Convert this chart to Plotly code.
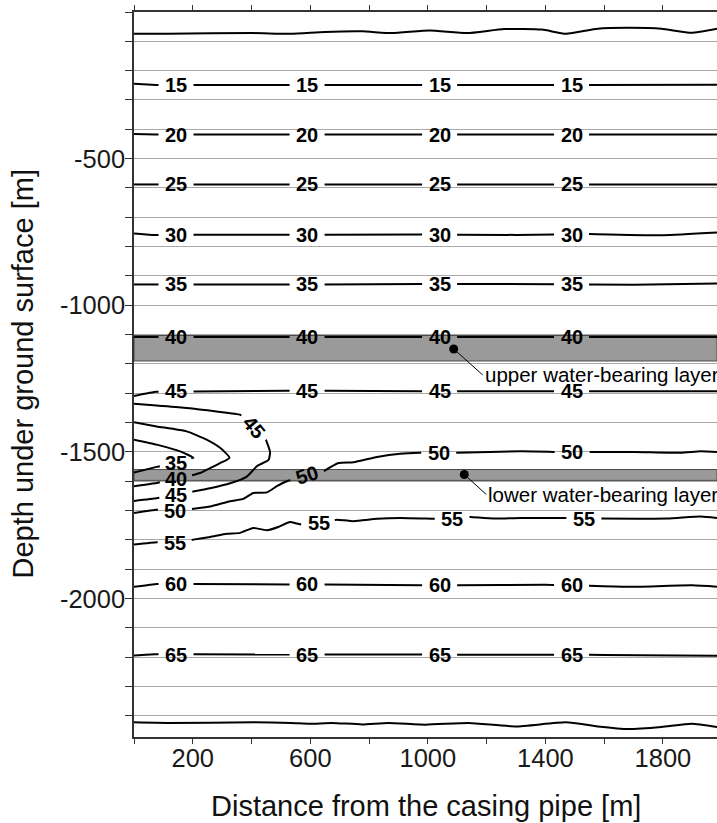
import math
import plotly.graph_objects as go

# ---------------- axes ----------------
X_RANGE = [0, 1984]
Y_RANGE = [-2472, 0]
X_TICKS = [200, 600, 1000, 1400, 1800]
X_TICKTEXT = ["200", "600", "1000", "1400", "1800"]
Y_TICKS = [-500, -1000, -1500, -2000]
Y_TICKTEXT = ["-500", "-1000", "-1500", "-2000"]
ML, MR, MT, MB = 134, 0, 12, 86
FIG_W, FIG_H = 717, 823

# ---------------- isotherms (distance [m], depth [m]) ----------------
T10_X = [0, 114, 407, 534, 649, 776, 878, 1006, 1133, 1260, 1388, 1470, 1578, 1681, 1795, 1897, 1984]
T10_D = [-74, -74, -72, -74, -68, -66, -72, -63, -72, -58, -60, -74, -57, -54, -57, -71, -57]

T15_X = [0, 75, 600, 1200, 1984]
T15_D = [-245, -249, -249, -249, -248]

T20_X = [0, 75, 1984]
T20_D = [-416, -418, -418]

T25_X = [0, 1984]
T25_D = [-588, -588]

T30_X = [0, 60, 1000, 1300, 1550, 1800, 1984]
T30_D = [-755, -760, -759, -760, -757, -761, -752]

T35_X = [0, 600, 1200, 1700, 1984]
T35_D = [-929, -929, -927, -930, -926]

T40_X = [0, 1984]
T40_D = [-1108, -1108]

T45_X = [0, 75, 520, 1000, 1984]
T45_D = [-1309, -1295, -1291, -1293, -1293]

# cold plume near the casing pipe (hairpin isotherms)
T35H_X = [0, 77, 157, 202, 143, 77, 0]
T35H_D = [-1458, -1475, -1498, -1520, -1537, -1551, -1570]

T40H_X = [0, 77, 179, 247, 293, 325, 293, 259, 225, 197, 143, 77, 0]
T40H_D = [-1399, -1413, -1430, -1458, -1486, -1520, -1538, -1555, -1572, -1580, -1592, -1606, -1617]

T45H_X = [0, 77, 179, 281, 361, 408, 449, 463, 458, 419, 384, 327, 259, 202, 143, 77, 0]
T45H_D = [-1336, -1342, -1350, -1362, -1373, -1415, -1459, -1500, -1527, -1548, -1584, -1607, -1624,
          -1635, -1647, -1658, -1667]

T50_X = [0, 77, 140, 202, 259, 327, 372, 406, 452, 486, 520, 543, 589, 645, 696, 747, 827, 906, 974,
         1037, 1099, 1315, 1429, 1491, 1701, 1860, 1928, 1984]
T50_D = [-1708, -1697, -1703, -1694, -1686, -1668, -1660, -1640, -1638, -1617, -1600, -1594, -1580,
         -1566, -1538, -1535, -1517, -1506, -1503, -1503, -1503, -1498, -1500, -1500, -1500, -1503,
         -1498, -1500]

T55_X = [0, 77, 140, 202, 259, 316, 361, 406, 452, 491, 531, 554, 571, 628, 690, 747, 827, 906, 1020,
         1083, 1145, 1224, 1315, 1463, 1531, 1588, 1815, 1928, 1984]
T55_D = [-1816, -1808, -1810, -1799, -1790, -1779, -1776, -1759, -1767, -1756, -1739, -1744, -1748,
         -1744, -1731, -1736, -1728, -1725, -1728, -1727, -1722, -1727, -1725, -1725, -1727, -1727,
         -1727, -1720, -1725]

T60_X = [0, 77, 600, 1100, 1400, 1680, 1900, 1984]
T60_D = [-1960, -1950, -1952, -1955, -1953, -1960, -1955, -1960]

T65_X = [0, 70, 1000, 1600, 1984]
T65_D = [-2194, -2190, -2191, -2192, -2195]

T70_X = [0, 114, 407, 534, 598, 674, 776, 865, 993, 1139, 1299, 1470, 1578, 1681, 1795, 1897, 1984]
T70_D = [-2422, -2424, -2422, -2424, -2427, -2424, -2429, -2424, -2430, -2424, -2436, -2422, -2436,
         -2445, -2438, -2427, -2438]

# contour labels: (distance, depth, rotation)
LABEL_X = [143, 589, 1040, 1489]
L15 = [(x, -249, 0) for x in LABEL_X]
L20 = [(x, -418, 0) for x in LABEL_X]
L25 = [(x, -588, 0) for x in LABEL_X]
L30 = [(x, -759, 0) for x in LABEL_X]
L35 = [(x, -929, 0) for x in LABEL_X]
L40 = [(x, -1108, 0) for x in LABEL_X]
L45 = [(x, -1293, 0) for x in LABEL_X]
L35H = [(143, -1537, 0)]
L40H = [(143, -1592, 0)]
L45H = [(408, -1415, 50), (143, -1647, 0)]
L50 = [(140, -1703, 0), (589, -1580, -18), (1037, -1503, 0), (1491, -1500, 0)]
L55 = [(140, -1810, 0), (628, -1744, 0), (1083, -1727, 0), (1531, -1727, 0)]
L60 = [(143, -1952, 0), (589, -1952, 0), (1040, -1955, 0), (1489, -1955, 0)]
L65 = [(x, -2191, 0) for x in LABEL_X]

ISOTHERMS = [
    ("", T10_X, T10_D, []),
    ("15", T15_X, T15_D, L15),
    ("20", T20_X, T20_D, L20),
    ("25", T25_X, T25_D, L25),
    ("30", T30_X, T30_D, L30),
    ("35", T35_X, T35_D, L35),
    ("40", T40_X, T40_D, L40),
    ("45", T45_X, T45_D, L45),
    ("35", T35H_X, T35H_D, L35H),
    ("40", T40H_X, T40H_D, L40H),
    ("45", T45H_X, T45H_D, L45H),
    ("50", T50_X, T50_D, L50),
    ("55", T55_X, T55_D, L55),
    ("60", T60_X, T60_D, L60),
    ("65", T65_X, T65_D, L65),
    ("", T70_X, T70_D, []),
]

# water-bearing layers (top, bottom depth) and marker points
UPPER_LAYER = (-1103, -1190)
LOWER_LAYER = (-1560, -1597)
LAYER_NAMES = ["upper water-bearing layer", "lower water-bearing layer"]
LAYER_DOT_X = [1088, 1124]
LAYER_DOT_D = [-1149, -1577]

# ---------------- geometry helpers ----------------
PW = FIG_W - ML - MR
PH = FIG_H - MT - MB


def to_px(x, y):
    px = ML + (x - X_RANGE[0]) / (X_RANGE[1] - X_RANGE[0]) * PW
    py = MT + (Y_RANGE[1] - y) / (Y_RANGE[1] - Y_RANGE[0]) * PH
    return px, py


def to_data(px, py):
    x = X_RANGE[0] + (px - ML) / PW * (X_RANGE[1] - X_RANGE[0])
    y = Y_RANGE[1] - (py - MT) / PH * (Y_RANGE[1] - Y_RANGE[0])
    return x, y


GAP_A, GAP_B = 17.5, 9.0  # half axes of the gap around a label (px)


def cut_line(xs, ys, labels):
    pts = [to_px(x, y) for x, y in zip(xs, ys)]
    cents = []
    for lx, ly, ang in labels:
        cx, cy = to_px(lx, ly)
        th = math.radians(ang)
        cents.append((cx, cy, math.cos(th), math.sin(th)))
    out_x, out_y = [], []
    last = None
    for i in range(len(pts) - 1):
        (x0, y0), (x1, y1) = pts[i], pts[i + 1]
        dx, dy = x1 - x0, y1 - y0
        hidden = []
        for cx, cy, c, s in cents:
            u0 = (x0 - cx) * c + (y0 - cy) * s
            v0 = -(x0 - cx) * s + (y0 - cy) * c
            du = dx * c + dy * s
            dv = -dx * s + dy * c
            A = du * du / GAP_A ** 2 + dv * dv / GAP_B ** 2
            B = 2 * (u0 * du / GAP_A ** 2 + v0 * dv / GAP_B ** 2)
            C = u0 * u0 / GAP_A ** 2 + v0 * v0 / GAP_B ** 2 - 1
            if A == 0:
                continue
            disc = B * B - 4 * A * C
            if disc <= 0:
                continue
            r = math.sqrt(disc)
            t1, t2 = (-B - r) / (2 * A), (-B + r) / (2 * A)
            a, b = max(0.0, t1), min(1.0, t2)
            if a < b:
                hidden.append((a, b))
        hidden.sort()
        vis = []
        t = 0.0
        for a, b in hidden:
            if a > t:
                vis.append((t, a))
            t = max(t, b)
        if t < 1.0:
            vis.append((t, 1.0))
        for a, b in vis:
            sp = (x0 + a * dx, y0 + a * dy)
            ep = (x0 + b * dx, y0 + b * dy)
            if last is not None and abs(last[0] - sp[0]) < 1e-6 and abs(last[1] - sp[1]) < 1e-6:
                d = to_data(*ep)
                out_x.append(d[0]); out_y.append(d[1])
            else:
                if out_x:
                    out_x.append(None); out_y.append(None)
                d0 = to_data(*sp); d1 = to_data(*ep)
                out_x += [d0[0], d1[0]]; out_y += [d0[1], d1[1]]
            last = ep
        if not vis:
            last = None
    return out_x, out_y


# ---------------- figure ----------------
FONT = "Liberation Sans, Arial, sans-serif"
fig = go.Figure()

for val, xs, ys, labs in ISOTHERMS:
    cx, cy = cut_line(xs, ys, labs)
    fig.add_trace(go.Scatter(x=cx, y=cy, mode="lines", showlegend=False, hoverinfo="skip",
                             line=dict(color="black", width=2, shape="spline", smoothing=0.5)))

fig.add_trace(go.Scatter(x=LAYER_DOT_X, y=LAYER_DOT_D, mode="markers", showlegend=False,
                         marker=dict(color="black", size=9)))

annotations = []
for val, xs, ys, labs in ISOTHERMS:
    for lx, ly, ang in labs:
        annotations.append(dict(x=lx, y=ly, text=val, showarrow=False, textangle=ang,
                                xanchor="center", yanchor="middle",
                                font=dict(family=FONT, size=20, color="black", weight="bold")))

for name, dx, dd, off in zip(LAYER_NAMES, LAYER_DOT_X, LAYER_DOT_D, [(29, 26), (22, 20)]):
    annotations.append(dict(x=dx, y=dd, text=name, showarrow=True, arrowhead=0, arrowwidth=1,
                            arrowcolor="black", ax=off[0], ay=off[1], axref="pixel", ayref="pixel",
                            xanchor="left", yanchor="middle", standoff=0,
                            font=dict(family=FONT, size=20.5, color="black")))

annotations.append(dict(xref="paper", yref="paper", x=0.5, y=(0 - (806 - (MT + PH))) / PH,
                        text="Distance from the casing pipe [m]", showarrow=False,
                        xanchor="center", yanchor="middle", font=dict(family=FONT, size=29, color="#111")))
annotations.append(dict(xref="paper", yref="paper", x=(22 - ML) / PW, y=0.5,
                        text="Depth under ground surface [m]", showarrow=False, textangle=-90,
                        xanchor="center", yanchor="middle", font=dict(family=FONT, size=29, color="#111")))

shapes = []
for top, bot in [UPPER_LAYER, LOWER_LAYER]:
    shapes.append(dict(type="rect", xref="x", yref="y", x0=X_RANGE[0], x1=X_RANGE[1], y0=bot, y1=top,
                       fillcolor="#9a9a9a", line=dict(color="#4a4a4a", width=1), layer="between"))

fig.update_layout(
    width=FIG_W, height=FIG_H,
    margin=dict(l=ML, r=MR, t=MT, b=MB, autoexpand=False),
    paper_bgcolor="white", plot_bgcolor="white",
    shapes=shapes, annotations=annotations,
    xaxis=dict(range=X_RANGE, tickvals=X_TICKS, ticktext=X_TICKTEXT, ticks="outside", ticklen=5,
               tickwidth=1.2, tickcolor="#333", showline=True, linecolor="#333", linewidth=1.5,
               mirror="ticks", showgrid=False, zeroline=False, ticklabelstandoff=-7,
               tickfont=dict(family=FONT, size=25.5, color="#1a1a1a"),
               minor=dict(dtick=200, tick0=0, ticks="outside", ticklen=5, tickwidth=1.2, tickcolor="#333")),
    yaxis=dict(range=Y_RANGE, tickvals=Y_TICKS, ticktext=Y_TICKTEXT, ticks="outside", ticklen=7,
               tickwidth=1.2, tickcolor="#333", showline=True, linecolor="#333", linewidth=1.5,
               showgrid=True, gridcolor="#a9a9a9", gridwidth=1.2, zeroline=False, ticklabelstandoff=-5,
               tickfont=dict(family=FONT, size=25.5, color="#1a1a1a"),
               minor=dict(dtick=100, tick0=0, ticks="outside", ticklen=7, tickwidth=1.2, tickcolor="#333",
                          showgrid=True, gridcolor="#a9a9a9", gridwidth=1.2)),
)

fig.write_html("out.html")
